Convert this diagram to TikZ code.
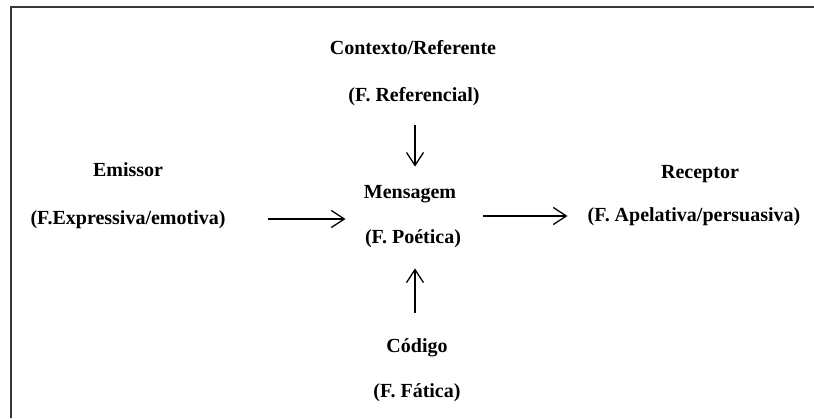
\documentclass[tikz,border=0pt]{standalone}
\usepackage{fontspec}
\setmainfont{Liberation Serif}
\usetikzlibrary{arrows.meta,fit}
\begin{document}
\begin{tikzpicture}[x=1pt,y=-1pt,
  lbl/.style={font=\fontsize{20}{22}\selectfont\bfseries, inner sep=0pt, text height=14pt, text depth=4pt, anchor=center},
  arr/.style={line width=1.3pt, -{Straight Barb[length=13pt,width=17pt,line width=1.3pt]}},
  frame/.style={line width=2.2pt, draw=black!78}]
\useasboundingbox (0,0) rectangle (814,418);
\draw[frame] (814,7) -- (11,7) -- (11,418);
\node[lbl] (ctx)  at (413,49)  {Contexto/Referente};
\node[lbl] (ctxf) at (414,96)  {(F. Referencial)};
\node[lbl] (emi)  at (128,171) {Emissor};
\node[lbl] (emif) at (128,219) {(F.Expressiva/emotiva)};
\node[lbl] (men)  at (410,193) {Mensagem};
\node[lbl] (menf) at (413,238) {(F. Poética)};
\node[lbl] (rec)  at (700,173) {Receptor};
\node[lbl] (recf) at (694,216) {(F. Apelativa/persuasiva)};
\node[lbl] (cod)  at (417,347) {Código};
\node[lbl] (codf) at (417,392) {(F. Fática)};
\node[fit=(men)(menf), inner sep=0pt] (grp) {};
\draw[arr, shorten <=20pt, shorten >=17pt] (415,0 |- ctxf.south) -- (415,0 |- grp.north);
\draw[arr, shorten <=42pt, shorten >=18pt] (emif.east) -- (emif.east -| grp.west);
\draw[arr, shorten <=22pt, shorten >=20pt] (grp.east |- recf.west) -- (recf.west);
\draw[arr, shorten <=25pt, shorten >=21pt] (415,0 |- cod.north) -- (415,0 |- grp.south);
\end{tikzpicture}
\end{document}
